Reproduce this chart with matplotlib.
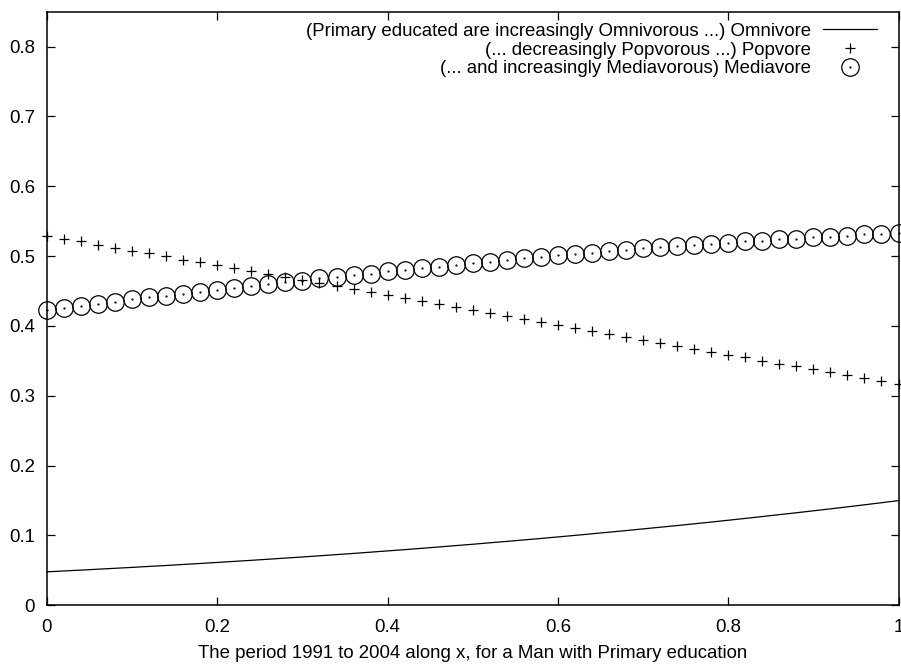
import matplotlib
matplotlib.use("Agg")
import matplotlib.pyplot as plt

plt.rcParams['font.family'] = ['Liberation Sans', 'DejaVu Sans']

x_vals = [round(0.02 * i, 2) for i in range(51)]

omnivore = [0.0479, 0.0492, 0.0504, 0.0517, 0.0530, 0.0543, 0.0557, 0.0570, 0.0585, 0.0599,
            0.0614, 0.0629, 0.0644, 0.0660, 0.0676, 0.0692, 0.0709, 0.0726, 0.0743, 0.0761,
            0.0779, 0.0797, 0.0816, 0.0835, 0.0855, 0.0874, 0.0895, 0.0915, 0.0936, 0.0957,
            0.0979, 0.1001, 0.1024, 0.1047, 0.1070, 0.1094, 0.1118, 0.1142, 0.1167, 0.1192,
            0.1218, 0.1244, 0.1271, 0.1298, 0.1325, 0.1353, 0.1381, 0.1410, 0.1439, 0.1469,
            0.1499]

popvore = [0.529, 0.525, 0.521, 0.516, 0.512, 0.508, 0.504, 0.500, 0.495, 0.491,
           0.487, 0.483, 0.478, 0.474, 0.470, 0.466, 0.461, 0.457, 0.453, 0.448,
           0.444, 0.440, 0.436, 0.431, 0.427, 0.423, 0.418, 0.414, 0.410, 0.406,
           0.401, 0.397, 0.393, 0.388, 0.384, 0.380, 0.376, 0.371, 0.367, 0.363,
           0.359, 0.355, 0.350, 0.346, 0.342, 0.338, 0.334, 0.330, 0.326, 0.321,
           0.317]

mediavore = [0.423, 0.426, 0.429, 0.432, 0.435, 0.438, 0.441, 0.443, 0.446, 0.449,
             0.452, 0.455, 0.457, 0.460, 0.463, 0.465, 0.468, 0.470, 0.473, 0.475,
             0.478, 0.480, 0.483, 0.485, 0.488, 0.490, 0.492, 0.494, 0.497, 0.499,
             0.501, 0.503, 0.505, 0.507, 0.509, 0.511, 0.513, 0.514, 0.516, 0.518,
             0.519, 0.521, 0.522, 0.524, 0.525, 0.527, 0.528, 0.529, 0.531, 0.532,
             0.533]

labels = ["(Primary educated are increasingly Omnivorous ...) Omnivore",
          "(... decreasingly Popvorous ...) Popvore",
          "(... and increasingly Mediavorous) Mediavore"]

x_ticks = [0, 0.2, 0.4, 0.6, 0.8, 1]
x_ticklabels = ["0", "0.2", "0.4", "0.6", "0.8", "1"]
y_ticks = [0, 0.1, 0.2, 0.3, 0.4, 0.5, 0.6, 0.7, 0.8]
y_ticklabels = ["0", "0.1", "0.2", "0.3", "0.4", "0.5", "0.6", "0.7", "0.8"]
xlabel = "The period 1991 to 2004 along x, for a Man with Primary education"

FS = 13.4

fig = plt.figure(figsize=(9.01, 6.66), dpi=100)
ax = fig.add_axes([47 / 901, 1 - 605.3 / 666, 851.5 / 901, 593.6 / 666])

l1, = ax.plot(x_vals, omnivore, color='black', linewidth=0.9, clip_on=False)
l2, = ax.plot(x_vals, popvore, linestyle='none', marker='+', markersize=6.5,
              markeredgewidth=0.9, color='black', clip_on=False)
l3, = ax.plot(x_vals, mediavore, linestyle='none', marker='o', markersize=12.6,
              markerfacecolor='none', markeredgecolor='black', markeredgewidth=0.9,
              clip_on=False)
l3b, = ax.plot(x_vals, mediavore, linestyle='none', marker='.', markersize=1.2,
               color='black', clip_on=False)

ax.set_xlim(0, 1)
ax.set_ylim(0, 0.85)
ax.set_xticks(x_ticks)
ax.set_xticklabels(x_ticklabels)
ax.set_yticks(y_ticks)
ax.set_yticklabels(y_ticklabels)
ax.tick_params(direction='in', length=6, width=0.9, top=True, right=True,
               labelsize=FS, colors='black')
ax.tick_params(axis='x', pad=10)
ax.tick_params(axis='y', pad=8.5)
for s in ax.spines.values():
    s.set_linewidth(1.1)
ax.set_xlabel(xlabel, fontsize=FS, labelpad=6)

leg = ax.legend([l1, l2, (l3, l3b)], labels, loc='upper right',
                bbox_to_anchor=(0.9744, 0.981), markerfirst=False, frameon=False,
                fontsize=FS, handlelength=2.87, handletextpad=0.68,
                borderpad=0, borderaxespad=0, labelspacing=0.09)
for col in leg._legend_handle_box.get_children():
    col.align = 'right'

fig.savefig("out.png", dpi=100)
